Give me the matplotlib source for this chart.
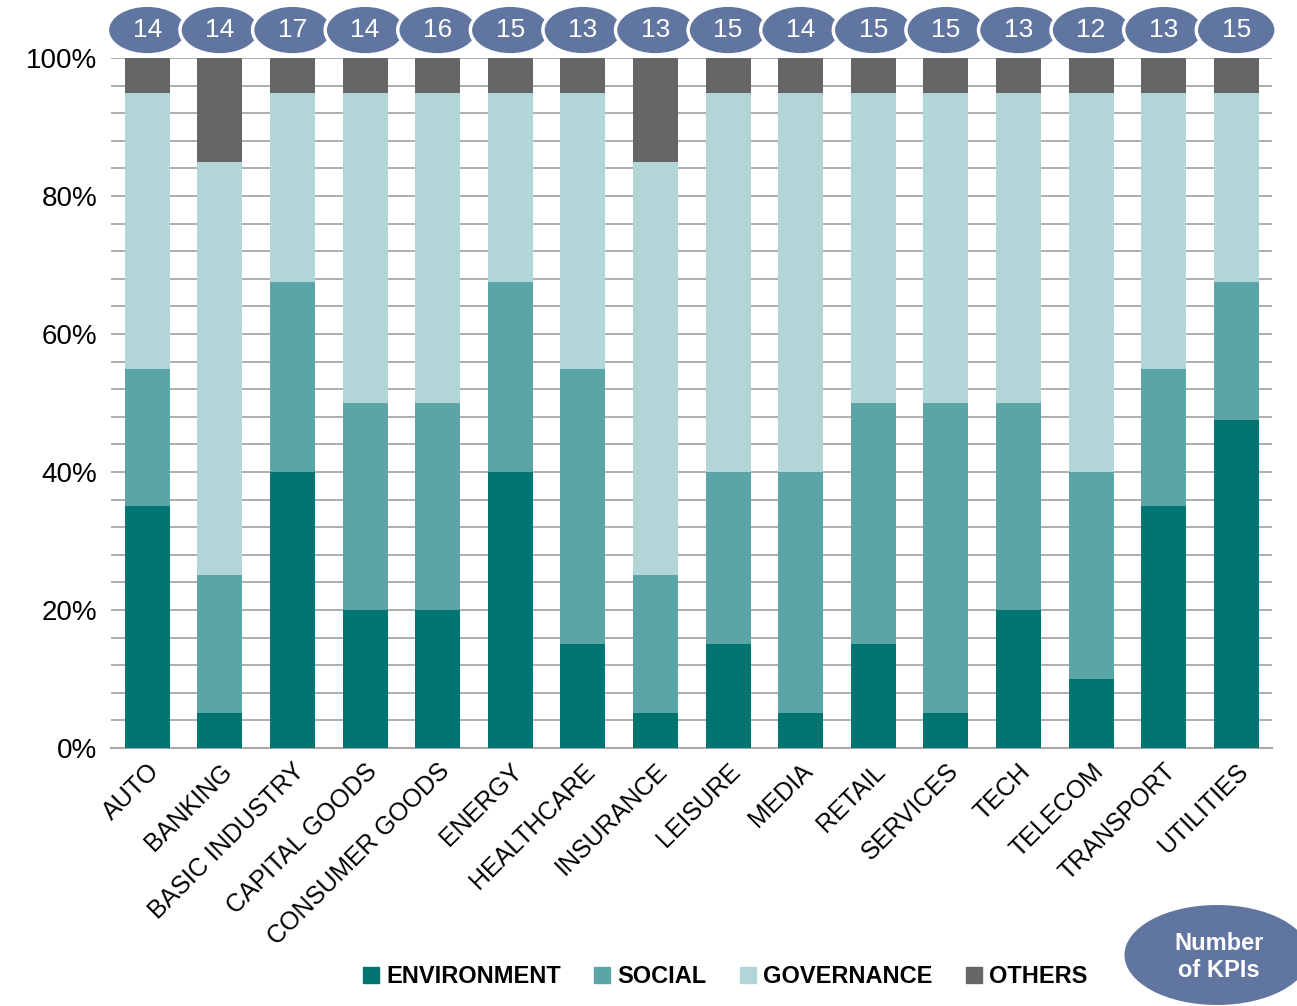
import matplotlib.pyplot as plt
import matplotlib.transforms as mtransforms
from matplotlib.patches import Ellipse
from matplotlib.lines import Line2D
import numpy as np

plt.rcParams['font.family'] = ['Liberation Sans', 'DejaVu Sans']

# Data
sectors = ["AUTO", "BANKING", "BASIC INDUSTRY", "CAPITAL GOODS", "CONSUMER GOODS",
           "ENERGY", "HEALTHCARE", "INSURANCE", "LEISURE", "MEDIA", "RETAIL",
           "SERVICES", "TECH", "TELECOM", "TRANSPORT", "UTILITIES"]
environment = [35, 5, 40, 20, 20, 40, 15, 5, 15, 5, 15, 5, 20, 10, 35, 47.5]
social = [20, 20, 27.5, 30, 30, 27.5, 40, 20, 25, 35, 35, 45, 30, 30, 20, 20]
governance = [40, 60, 27.5, 45, 45, 27.5, 40, 60, 55, 55, 45, 45, 45, 55, 40, 27.5]
others = [5, 15, 5, 5, 5, 5, 5, 15, 5, 5, 5, 5, 5, 5, 5, 5]
kpi_counts = [14, 14, 17, 14, 16, 15, 13, 13, 15, 14, 15, 15, 13, 12, 13, 15]

series = [("ENVIRONMENT", environment, "#007470"),
          ("SOCIAL", social, "#5ba5a7"),
          ("GOVERNANCE", governance, "#b2d6d7"),
          ("OTHERS", others, "#666666")]
badge_color = "#6075a0"

fig = plt.figure(figsize=(12.97, 10.06), dpi=100)
ax = fig.add_axes([0.0856, 0.2565, 0.8955, 0.6858])

x = np.arange(len(sectors))
bottom = np.zeros(len(sectors))
for name, vals, color in series:
    ax.bar(x, vals, bottom=bottom, width=0.62, color=color, zorder=3)
    bottom += np.array(vals)

ax.set_xlim(-0.5, len(sectors) - 0.5)
ax.set_ylim(0, 100)
ax.set_yticks(np.arange(0, 101, 20))
ax.set_yticklabels([f"{v}%" for v in range(0, 101, 20)], fontsize=20)
ax.set_yticks(np.arange(0, 101, 4), minor=True)
ax.tick_params(axis='y', which='both', length=0, pad=10)
ax.grid(axis='y', which='both', color='#a8a8a8', linewidth=1.3, zorder=0)
ax.set_xticks(x)
ax.set_xticklabels(sectors, rotation=45, ha='right', rotation_mode='anchor', fontsize=18)
ax.tick_params(axis='x', length=0, pad=8)
for side in ['top', 'right', 'left']:
    ax.spines[side].set_visible(False)
ax.spines['bottom'].set_color('#a8a8a8')
ax.spines['bottom'].set_linewidth(1.5)

# KPI count badges above each bar
trans = mtransforms.blended_transform_factory(ax.transData, ax.transAxes)
for i, n in enumerate(kpi_counts):
    e = Ellipse((i, 1.0406), width=1.1, height=0.072, transform=trans,
                facecolor=badge_color, edgecolor='white', linewidth=2.5, clip_on=False, zorder=5)
    ax.add_patch(e)
    ax.text(i, 1.0406, str(n), transform=trans, ha='center', va='center',
            color='white', fontsize=19, zorder=6, clip_on=False)

# Legend
handles = [Line2D([], [], marker='s', linestyle='none', markersize=12, color=c) for _, _, c in series]
fig.legend(handles, [s[0] for s in series], loc='center', bbox_to_anchor=(0.559, 0.029),
           ncol=4, frameon=False, handlelength=0.7, handletextpad=0.3, columnspacing=1.4,
           prop={'weight': 'bold', 'size': 17})

# "Number of KPIs" key badge
key = Ellipse((1217 / 1297, 1 - 955 / 1006), width=185 / 1297, height=100 / 1006,
              transform=fig.transFigure, facecolor=badge_color, edgecolor='none')
fig.patches.append(key)
fig.text(1219 / 1297, 1 - 957 / 1006, "Number\nof KPIs", ha='center', va='center', color='white',
         fontsize=17, fontweight='bold', linespacing=1.25)

fig.savefig("out.png", dpi=100)
